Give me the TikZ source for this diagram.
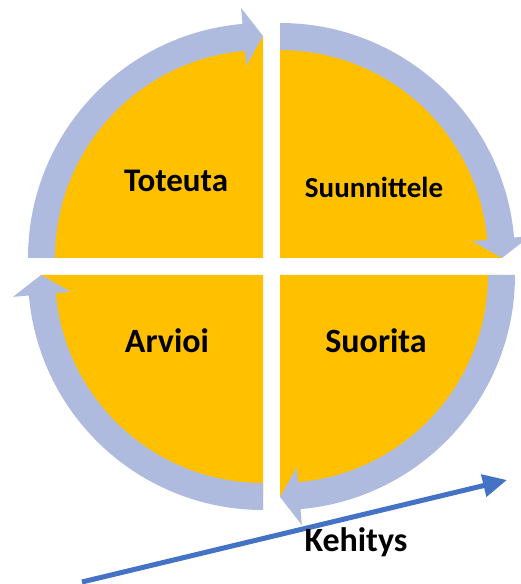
\documentclass[tikz,border=0pt]{standalone}
\usepackage{fontspec}
\setmainfont{Carlito}
\usepackage{xcolor}
\usepackage{tikz}
\usetikzlibrary{arrows.meta, positioning, calc}
\definecolor{ringblue}{RGB}{174,187,222}
\definecolor{phasegold}{RGB}{255,192,0}
\definecolor{devblue}{RGB}{68,114,196}
\tikzset{
  phase/.style={fill=phasegold},
  phaselabel/.style={
    font=\bfseries, text=black, inner sep=0pt, anchor=base
  },
  devarrow/.style={-{Triangle[length=24pt, width=22pt]}, line width=5pt, draw=devblue},
}
% ring segment with its head: corner, start angle, end angle
\newcommand{\cyclearrow}[3]{%
  \pgfmathsetmacro{\headangle}{#3+5}
  \fill[ringblue, shift={#1}] (#2:208) arc[start angle=#2, end angle=\headangle, radius=208]
    -- (\headangle:193) -- (#3:222) -- (\headangle:251) -- (\headangle:235)
    arc[start angle=\headangle, end angle=#2, radius=235] -- cycle;
}

\begin{document}
\begin{tikzpicture}[x=1pt, y=1pt]
    \useasboundingbox (0,0) rectangle (520,584);

    % four quarters
    \fill[phase] (263,326) -- ++(180:222) arc[start angle=180, end angle=90, radius=222] -- cycle;
    \fill[phase] (280,326) -- ++(90:222) arc[start angle=90, end angle=0, radius=222] -- cycle;
    \fill[phase] (280,309) -- ++(0:222) arc[start angle=0, end angle=-90, radius=222] -- cycle;
    \fill[phase] (263,309) -- ++(-90:222) arc[start angle=-90, end angle=-180, radius=222] -- cycle;

    % clockwise ring
    \cyclearrow{(263,326)}{180}{90}
    \cyclearrow{(280,326)}{90}{0}
    \cyclearrow{(280,309)}{0}{-90}
    \cyclearrow{(263,309)}{-90}{-180}

    \node[phaselabel, font=\fontsize{33}{36}\selectfont\bfseries] (toteuta) at (176,392) {Toteuta};
    \node[phaselabel, font=\fontsize{29}{32}\selectfont\bfseries] (suunnittele) at (374,386) {Suunnittele};
    \node[phaselabel, font=\fontsize{34}{37}\selectfont\bfseries] (arvioi) at (167,231) {Arvioi};
    \node[phaselabel, font=\fontsize{34}{37}\selectfont\bfseries] (suorita) at (376,231) {Suorita};

    % development
    \coordinate (devstart) at (82,2);
    \coordinate (devend) at (507,104);
    \draw[devarrow] (devstart) -- (devend);
    \node[phaselabel, font=\fontsize{34}{37}\selectfont\bfseries] (kehitys) at (356,32) {Kehitys};
  \end{tikzpicture}
\end{document}
